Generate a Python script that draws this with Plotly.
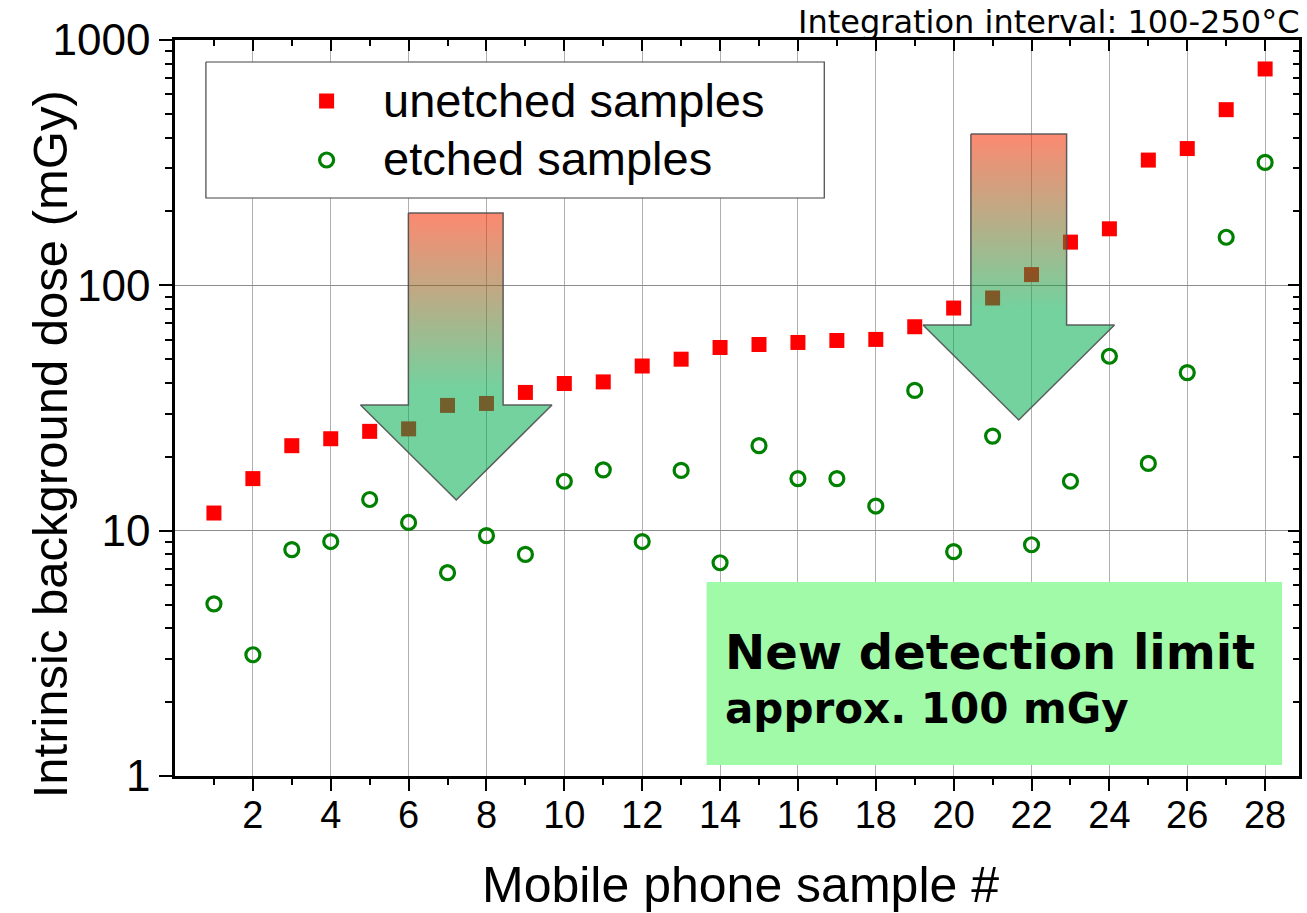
import plotly.graph_objects as go

# ---------------- data ----------------
samples = list(range(1, 29))
unetched = [11.8, 16.3, 22.2, 23.7, 25.4, 26.0, 32.4, 33.0, 36.6, 39.8,
            40.4, 46.9, 50.0, 55.8, 57.4, 58.5, 59.6, 60.2, 67.8, 80.8,
            88.8, 110.6, 150, 170, 324, 361, 520, 762]
etched = [5.03, 3.12, 8.37, 9.03, 13.4, 10.8, 6.74, 9.54, 8.0, 15.9,
          17.7, 9.03, 17.6, 7.40, 22.2, 16.3, 16.3, 12.6, 37.3, 8.21,
          24.3, 8.76, 15.9, 51.4, 18.8, 44.1, 157, 317]
x_ticks = list(range(2, 29, 2))
x_minor = list(range(1, 29, 2))
y_ticks = [1, 10, 100, 1000]
y_ticktext = ["1", "10", "100", "1000"]
y_minor = [m * 10 ** k for k in range(0, 3) for m in range(2, 10)]

W, H = 1307, 913
L, R, T, B = 175, 5, 40, 137
PX0, PX1, PY0, PY1 = L, W - R, T, H - B  # plot area in pixels
XMAX = 28.87


def px(x):
    return (x - PX0) / (PX1 - PX0)


def py(y):
    return (PY1 - y) / (PY1 - PY0)


fig = go.Figure()

fig.add_trace(go.Scatter(x=samples, y=unetched, mode="markers", name="unetched samples",
                         marker=dict(symbol="square", size=15, color="#FF0000",
                                     line=dict(width=0)),
                         showlegend=False))
fig.add_trace(go.Scatter(x=samples, y=etched, mode="markers", name="etched samples",
                         marker=dict(symbol="circle-open", size=14, color="#008000",
                                     line=dict(width=3.2, color="#008000")),
                         showlegend=False))


def rect(x0, x1, y0, y1):
    return [x0, x1, x1, x0, x0], [y0, y0, y1, y1, y0]


# ---------- decorations in pixel space (overlay axes) ----------
bx, by = rect(206, 826, 62, 198)
fig.add_trace(go.Scatter(x=bx, y=by, xaxis="x2", yaxis="y2", mode="lines", fill="toself",
                         fillcolor="white", line=dict(color="#444444", width=1.2),
                         showlegend=False, hoverinfo="skip"))
gx, gy = rect(708, 1285, 582, 765)
fig.add_trace(go.Scatter(x=gx, y=gy, xaxis="x2", yaxis="y2", mode="lines", fill="toself",
                         fillcolor="#A0FAA8", line=dict(width=0, color="#A0FAA8"),
                         showlegend=False, hoverinfo="skip"))

arrows = [
    dict(shaft=(409, 504), top=213, base=405, head=(361, 553), tip=(457, 500)),
    dict(shaft=(973, 1069), top=134, base=325, head=(925, 1117), tip=(1021, 420)),
]
for a in arrows:
    sl, sr = a["shaft"]
    hl, hr = a["head"]
    xs = [sl, sr, sr, hr, a["tip"][0], hl, sl, sl]
    ys = [a["top"], a["top"], a["base"], a["base"], a["tip"][1], a["base"], a["base"], a["top"]]
    fig.add_trace(go.Scatter(
        x=xs, y=ys, xaxis="x2", yaxis="y2", mode="lines", fill="toself",
        line=dict(color="rgba(80,80,80,0.9)", width=1.5),
        fillgradient=dict(type="vertical",
                          colorscale=[[0, "rgba(250,45,0,0.56)"],
                                      [1, "rgba(0,173,79,0.55)"]],
                          start=a["top"], stop=a["base"] - 15),
        showlegend=False, hoverinfo="skip"))

fig.add_trace(go.Scatter(x=[327], y=[101], xaxis="x2", yaxis="y2", mode="markers",
                         marker=dict(symbol="square", size=15, color="#FF0000", line=dict(width=0)),
                         showlegend=False, hoverinfo="skip"))
fig.add_trace(go.Scatter(x=[327], y=[160], xaxis="x2", yaxis="y2", mode="markers",
                         marker=dict(symbol="circle-open", size=14, color="#008000",
                                     line=dict(width=3.2, color="#008000")),
                         showlegend=False, hoverinfo="skip"))

fig.add_trace(go.Scatter(x=[None], y=[None], xaxis="x3", yaxis="y3", mode="markers",
                         showlegend=False, hoverinfo="skip"))

SANS = "Liberation Sans, Arial"
axis_font = dict(family=SANS, color="black")

fig.update_layout(
    width=W, height=H,
    margin=dict(l=L, r=R, t=T, b=B, pad=0),
    paper_bgcolor="white", plot_bgcolor="white",
    font=dict(family=SANS, color="black"),
    showlegend=False,
    xaxis=dict(range=[0, XMAX], tickmode="array", tickvals=x_ticks,
               ticks="outside", ticklen=12, tickwidth=2, tickcolor="black",
               ticklabelstandoff=-8,
               minor=dict(tickmode="array", tickvals=x_minor, ticks="outside",
                          ticklen=6, tickwidth=2, tickcolor="black", showgrid=False),
               showline=True, linewidth=2.5, linecolor="black", mirror=True,
               showgrid=True, gridcolor="#b0b0b0", gridwidth=1, zeroline=False,
               tickfont=dict(size=38, **axis_font)),
    yaxis=dict(type="log", range=[0, 3], tickmode="array", tickvals=y_ticks,
               ticktext=y_ticktext,
               ticks="outside", ticklen=13, tickwidth=2, tickcolor="black",
               minor=dict(tickmode="array", tickvals=y_minor, ticks="outside",
                          ticklen=7, tickwidth=2, tickcolor="black", showgrid=False),
               showline=True, linewidth=2.5, linecolor="black", mirror=True,
               showgrid=True, gridcolor="#8c8c8c", gridwidth=1, zeroline=False,
               tickfont=dict(size=44, **axis_font)),
    xaxis2=dict(overlaying="x", range=[PX0, PX1], visible=False, fixedrange=True),
    yaxis2=dict(overlaying="y", range=[PY1, PY0], visible=False, fixedrange=True),
    xaxis3=dict(overlaying="x", anchor="y3", side="top", range=[0, XMAX],
                tickmode="array", tickvals=x_ticks, ticks="inside", ticklen=11,
                tickwidth=2, tickcolor="black", showticklabels=False,
                minor=dict(tickmode="array", tickvals=x_minor, ticks="inside",
                           ticklen=6, tickwidth=2, tickcolor="black"),
                showgrid=False, showline=False, zeroline=False),
    yaxis3=dict(overlaying="y", anchor="x3", side="right", type="log", range=[0, 3],
                tickmode="array", tickvals=y_ticks, ticks="inside", ticklen=11,
                tickwidth=2, tickcolor="black", showticklabels=False,
                minor=dict(tickmode="array", tickvals=y_minor, ticks="inside",
                           ticklen=6, tickwidth=2, tickcolor="black"),
                showgrid=False, showline=False, zeroline=False),
)

ann = []
ann.append(dict(text="unetched samples", x=px(382), y=py(101), xref="paper", yref="paper",
                xanchor="left", yanchor="middle", showarrow=False,
                font=dict(size=47, **axis_font)))
ann.append(dict(text="etched samples", x=px(382), y=py(158), xref="paper", yref="paper",
                xanchor="left", yanchor="middle", showarrow=False,
                font=dict(size=47, **axis_font)))
ann.append(dict(text="<b>New detection limit</b>", x=px(724), y=py(652), xref="paper", yref="paper",
                xanchor="left", yanchor="middle", showarrow=False,
                font=dict(size=48, family="DejaVu Sans", color="black")))
ann.append(dict(text="<b>approx. 100 mGy</b>", x=px(724), y=py(708), xref="paper", yref="paper",
                xanchor="left", yanchor="middle", showarrow=False,
                font=dict(size=42, family="DejaVu Sans", color="black")))
ann.append(dict(text="Integration interval: 100-250°C", x=px(1305), y=py(22), xref="paper", yref="paper",
                xanchor="right", yanchor="middle", showarrow=False,
                font=dict(size=32, family="DejaVu Sans", color="black")))
ann.append(dict(text="Intrinsic background dose (mGy)", x=px(50), y=py(444), xref="paper", yref="paper",
                xanchor="center", yanchor="middle", textangle=-90, showarrow=False,
                font=dict(size=49, **axis_font)))
ann.append(dict(text="Mobile phone sample #", x=px(742), y=py(885), xref="paper", yref="paper",
                xanchor="center", yanchor="middle", showarrow=False,
                font=dict(size=50, **axis_font)))
fig.update_layout(annotations=ann)

fig.write_html("out.html")
